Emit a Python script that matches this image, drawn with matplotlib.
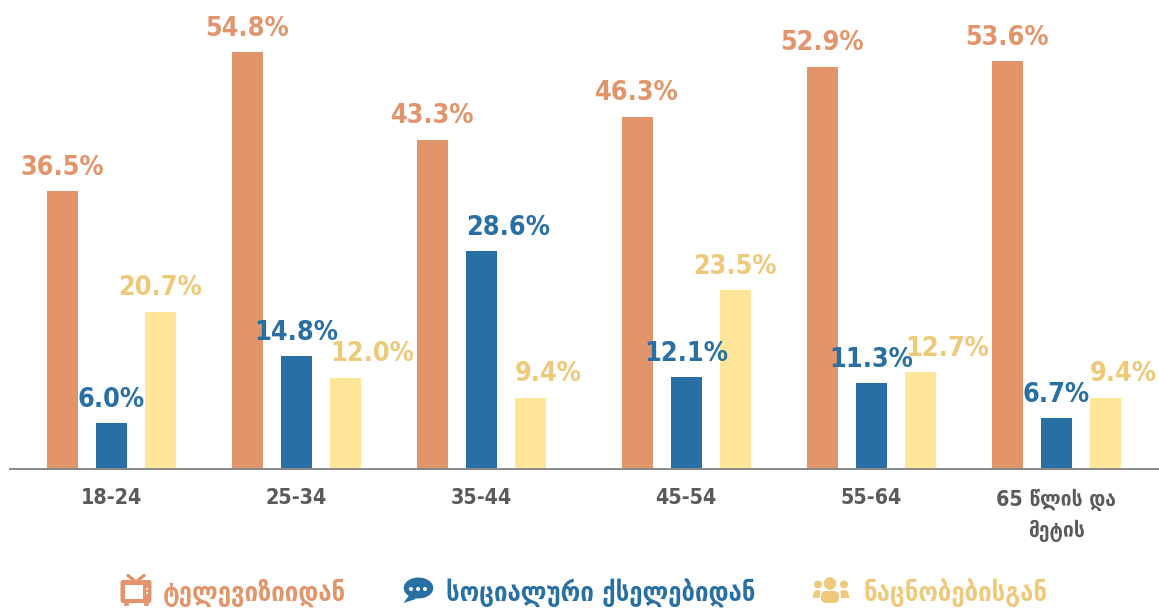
import numpy as np
import matplotlib
matplotlib.use('Agg')
import matplotlib.pyplot as plt
from matplotlib import font_manager as fm
from matplotlib.patches import Circle, Ellipse, FancyBboxPatch, Polygon, Rectangle

categories = ['18-24', '25-34', '35-44', '45-54', '55-64', '65 წლის და\nმეტის']
tv_values = [36.5, 54.8, 43.3, 46.3, 52.9, 53.6]
social_values = [6.0, 14.8, 28.6, 12.1, 11.3, 6.7]
friends_values = [20.7, 12.0, 9.4, 23.5, 12.7, 9.4]
legend_labels = ['ტელევიზიიდან', 'სოციალური ქსელებიდან', 'ნაცნობებისგან']

ORANGE = '#E2946A'
BLUE = '#2870A4'
YELLOW = '#FFE597'
YELLOW_TEXT = '#EDC979'
GREY = '#5A5A5A'

W, H = 1159, 608
fig = plt.figure(figsize=(W / 100, H / 100), dpi=100)
plt.rcParams['font.family'] = ['DejaVu Sans']

font = fm.FontProperties(family='DejaVu Sans', stretch='condensed', weight='bold')

# axes in pixel terms: baseline at y=469, 54.8% reaches y=53
ax = fig.add_axes([10 / W, (H - 469) / H, (W - 10) / W, 469 / H])
ax.set_xlim(-101.5 / 185, (W - 111.5) / 185)
ax.set_ylim(0, 469 / 7.605)

# the fourth group sits a bit further along in the original
centers = np.arange(6) + np.array([0, 0, 0, 0.107, 0.107, 0.107])
width = 31 / 185
step = 49 / 185

series = [(tv_values, -step, ORANGE, ORANGE),
          (social_values, 0, BLUE, BLUE),
          (friends_values, step, YELLOW, YELLOW_TEXT)]
# these labels start at the bar's left edge instead of being centred
left_aligned = {(1, 2), (2, 1), (2, 2), (2, 4), (2, 5)}
for i, (vals, off, col, txt) in enumerate(series):
    bars = ax.bar(centers + off, vals, width=width, color=col)
    for j, (b, v) in enumerate(zip(bars, vals)):
        left = (i, j) in left_aligned
        ax.annotate(f'{v:.1f}%', (b.get_x() if left else b.get_x() + b.get_width() / 2, v),
                    xytext=(0, 7.5), textcoords='offset points',
                    ha='left' if left else 'center', va='bottom',
                    fontproperties=font, fontsize=19.4, color=txt, clip_on=False)

for s in ['top', 'right', 'left']:
    ax.spines[s].set_visible(False)
ax.spines['bottom'].set_color('#888888')
ax.spines['bottom'].set_linewidth(1.4)
ax.set_yticks([])
ax.set_xticks(centers)
ax.set_xticklabels(categories, fontproperties=font, fontsize=15.36, color=GREY, linespacing=1.55)
ax.tick_params(axis='x', length=0, pad=14)

# overlay for the legend row, in pixels
lg = fig.add_axes([0, 0, 1, 1])
lg.set_xlim(0, W)
lg.set_ylim(H, 0)
lg.axis('off')
lg.patch.set_alpha(0)

legend_x = [163, 446, 863]
legend_cols = [ORANGE, BLUE, YELLOW_TEXT]
for x, label, col in zip(legend_x, legend_labels, legend_cols):
    lg.text(x, 593, label, fontproperties=font, fontsize=19.2, color=col, ha='left', va='center')

# tv icon
lg.add_patch(FancyBboxPatch((120.5, 580), 31, 23, boxstyle='round,pad=0,rounding_size=2.5',
                            fc=ORANGE, ec='none'))
lg.add_patch(Rectangle((125, 585), 18, 14, fc='white', ec='none'))
lg.plot([128, 136, 144], [575.5, 582, 575.5], color=ORANGE, lw=2.4, solid_capstyle='round')
for dy in [589, 593]:
    lg.add_patch(Circle((147, dy), 1.1, fc='white', ec='none'))
lg.plot([125, 127], [604, 604], color=ORANGE, lw=2)
lg.plot([145, 147], [604, 604], color=ORANGE, lw=2)

# chat icon
lg.add_patch(Ellipse((418.5, 588), 29.5, 21, fc=BLUE, ec='none'))
lg.add_patch(Polygon([[410, 594], [403.5, 603], [416, 599]], fc=BLUE, ec='none'))
for dx in [411, 418, 425]:
    lg.add_patch(Circle((dx, 589), 2, fc='white', ec='none'))

# people icon
lg.add_patch(Circle((830, 583.5), 6.2, fc=YELLOW_TEXT, ec='none'))
lg.add_patch(Circle((818, 584.5), 4, fc=YELLOW_TEXT, ec='none'))
lg.add_patch(Circle((844, 584.5), 4, fc=YELLOW_TEXT, ec='none'))
lg.add_patch(FancyBboxPatch((821, 591), 18, 12, boxstyle='round,pad=0,rounding_size=5',
                            fc=YELLOW_TEXT, ec='none'))
lg.add_patch(Polygon([[812.5, 598], [814, 591.5], [817, 590], [820.5, 590.5], [819.5, 598]],
                     fc=YELLOW_TEXT, ec='none'))
lg.add_patch(Polygon([[849.5, 598], [848, 591.5], [845, 590], [840.5, 590.5], [841, 598]],
                     fc=YELLOW_TEXT, ec='none'))

fig.savefig('out.png', dpi=100)
